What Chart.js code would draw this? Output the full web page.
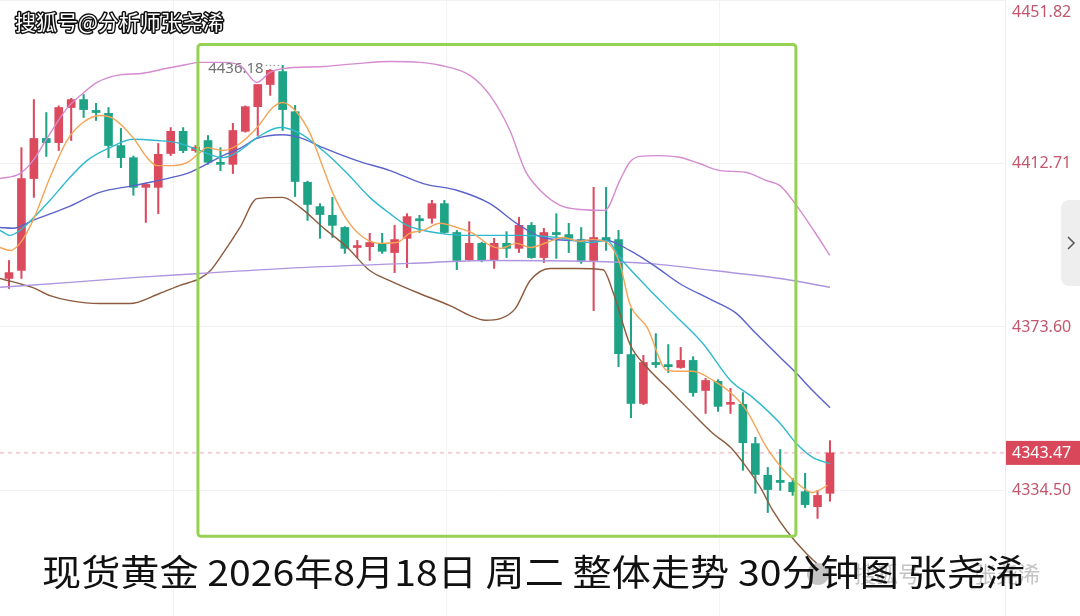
<!DOCTYPE html>
<html>
<head>
<meta charset="utf-8">
<script src="https://cdn.jsdelivr.net/npm/chart.js@4.4.1/dist/chart.umd.min.js"></script>
<style>
  html, body { margin: 0; padding: 0; background: #fff; }
  #wrap { width: 1080px; height: 616px; }
</style>
</head>
<body>
<div id="wrap"><canvas id="chart" width="1080" height="616"></canvas></div>
<script>
// 30 minute candles, oldest first
const opens = [4385.2, 4387.1, 4409.1, 4418.7, 4417.7, 4426.1, 4428.0, 4425.4, 4424.7, 4417.0,
  4414.1, 4407.0, 4407.0, 4415.1, 4420.4, 4415.8, 4418.2, 4412.9, 4412.5, 4420.4,
  4426.3, 4431.6, 4434.7, 4425.1, 4408.2, 4402.4, 4400.3, 4397.4, 4392.6, 4392.8,
  4393.6, 4391.4, 4394.8, 4399.5, 4399.6, 4403.1, 4396.2, 4389.7, 4393.6, 4389.7,
  4393.6, 4392.4, 4397.9, 4390.2, 4396.2, 4395.7, 4394.5, 4389.5, 4395.0, 4394.5,
  4367.0, 4355.3, 4365.1, 4364.6, 4363.9, 4365.6, 4358.4, 4360.6, 4355.1, 4355.1,
  4345.7, 4338.1, 4336.9, 4336.4, 4334.2, 4330.6, 4333.8];
const highs = [4389.5, 4416.5, 4428.0, 4424.9, 4426.5, 4428.3, 4429.2, 4427.1, 4426.1, 4421.1,
  4414.5, 4408.0, 4417.5, 4421.3, 4421.3, 4417.0, 4419.4, 4416.5, 4422.3, 4426.5,
  4431.6, 4435.2, 4436.18, 4426.6, 4408.5, 4403.1, 4404.6, 4397.6, 4394.3, 4396.0,
  4396.0, 4397.9, 4400.7, 4400.3, 4403.9, 4403.9, 4396.7, 4398.8, 4393.9, 4394.8,
  4396.4, 4399.8, 4398.6, 4397.2, 4400.7, 4398.4, 4397.4, 4407.0, 4407.0, 4396.7,
  4378.0, 4366.8, 4372.0, 4369.4, 4368.7, 4366.5, 4361.3, 4361.0, 4358.9, 4357.9,
  4347.2, 4340.0, 4344.3, 4337.4, 4338.6, 4334.5, 4346.4];
const lows = [4382.8, 4385.2, 4404.6, 4414.4, 4415.8, 4418.2, 4423.7, 4423.0, 4414.1, 4411.7,
  4405.1, 4398.6, 4400.7, 4414.6, 4415.3, 4415.4, 4412.5, 4411.0, 4410.3, 4420.2,
  4419.4, 4429.0, 4420.6, 4404.8, 4399.1, 4394.8, 4395.0, 4391.2, 4390.2, 4389.5,
  4391.2, 4386.6, 4387.8, 4396.2, 4398.4, 4396.0, 4387.3, 4389.5, 4389.2, 4387.6,
  4390.2, 4391.4, 4390.0, 4389.0, 4390.0, 4391.4, 4388.8, 4377.5, 4391.9, 4364.1,
  4351.9, 4355.0, 4363.9, 4362.7, 4363.7, 4357.0, 4352.9, 4353.4, 4352.9, 4339.3,
  4333.8, 4329.2, 4334.5, 4333.3, 4330.4, 4327.8, 4331.9];
const closes = [4386.6, 4409.1, 4418.7, 4417.7, 4426.1, 4428.0, 4425.6, 4424.9, 4417.0, 4414.1,
  4407.0, 4407.7, 4414.9, 4420.4, 4415.8, 4416.6, 4413.0, 4412.5, 4420.6, 4426.3,
  4431.6, 4435.0, 4425.6, 4408.4, 4402.9, 4400.5, 4397.9, 4392.4, 4392.8, 4393.8,
  4391.7, 4394.5, 4400.0, 4399.0, 4403.1, 4396.2, 4389.5, 4393.6, 4389.5, 4393.6,
  4392.4, 4397.9, 4390.2, 4396.2, 4395.7, 4394.8, 4389.5, 4395.0, 4394.3, 4367.2,
  4355.3, 4365.1, 4364.6, 4364.1, 4365.6, 4357.9, 4360.8, 4354.6, 4355.4, 4345.9,
  4338.3, 4334.7, 4336.4, 4334.2, 4331.1, 4333.3, 4343.47];

// indicator lines at candle positions
const ma5At = [-0.72, 0.08, 0.88, 1.93, 3.3, 4.66, 5.95, 7.3, 8.36, 9.97, 11.1, 11.9, 13.2, 14.3, 15.35, 15.9,
  17.2, 18.57, 19.94, 21.2, 22.0, 23.15, 24.2, 25.24, 26.05, 27.2, 28.5, 29.8, 31.2, 32.2, 33.3, 34.65,
  36.0, 37.3, 38.67, 39.5, 40.8, 41.9, 43.25, 44.5, 45.9, 46.9, 48.07, 49.1, 49.9, 51.3, 52.9, 53.9,
  55.0, 56.6, 58.0, 59.3, 60.9, 62.5, 63.3, 64.6, 65.8];
const ma5 = [4392.6, 4391.9, 4393.6, 4399.1, 4409.4, 4418.2, 4422.5, 4424.2, 4423.5, 4418.9, 4414.1, 4412.2,
  4412.2, 4412.9, 4415.3, 4416.5, 4415.8, 4417.5, 4421.3, 4426.1, 4427.3, 4424.9, 4419.9, 4411.8, 4405.5,
  4399.1, 4395.0, 4393.6, 4393.8, 4396.0, 4396.7, 4398.4, 4397.4, 4396.0, 4393.1, 4392.4, 4393.6, 4392.6,
  4393.8, 4395.0, 4394.1, 4394.5, 4393.8, 4388.8, 4379.2, 4373.5, 4363.2, 4363.0, 4363.0, 4360.8, 4357.9,
  4353.6, 4344.8, 4338.6, 4336.4, 4334.0, 4335.7];

const ma10At = [-0.72, 0.08, 0.88, 1.93, 3.3, 4.66, 6.27, 8.12, 9.97, 11.9, 13.5, 15.35, 17.2, 18.57, 19.94,
  21.8, 23.4, 25.24, 27.2, 29.0, 30.63, 32.0, 34.65, 37.3, 41.3, 44.05, 46.7, 48.07, 49.1, 51.3, 53.4,
  55.8, 58.0, 59.8, 62.0, 63.3, 64.6, 66.0];
const ma10 = [4396.7, 4395.5, 4396.7, 4399.6, 4403.9, 4408.6, 4413.4, 4416.5, 4418.5, 4418.2, 4417.7, 4415.8,
  4414.1, 4415.8, 4418.9, 4421.3, 4419.9, 4415.8, 4410.3, 4404.6, 4400.7, 4397.9, 4396.0, 4395.5, 4395.5,
  4395.0, 4393.8, 4394.3, 4390.2, 4383.1, 4376.8, 4369.6, 4360.8, 4356.7, 4350.5, 4345.7, 4342.4, 4340.9];

const ma20At = [-0.72, 0.32, 1.93, 4.66, 7.3, 9.97, 12.7, 14.55, 17.2, 18.57, 19.94, 22.0, 23.4, 25.24, 27.97,
  30.63, 33.3, 36.0, 38.67, 40.8, 42.9, 45.66, 48.07, 49.9, 52.1, 53.9, 56.6, 58.5, 59.8, 62.0, 63.3, 64.6, 66.0];
const ma20 = [4397.4, 4397.2, 4399.1, 4402.2, 4405.8, 4407.4, 4409.1, 4410.6, 4414.6, 4416.3, 4418.7, 4419.6,
  4418.9, 4416.5, 4413.4, 4411.0, 4407.9, 4406.3, 4403.1, 4398.4, 4395.0, 4394.3, 4394.3, 4391.9, 4387.8,
  4384.0, 4379.9, 4376.8, 4372.8, 4366.3, 4362.5, 4358.4, 4354.3];

const ma60At = [-0.72, 4.66, 9.97, 15.35, 23.4, 32.2, 38.67, 46.7, 51.3, 56.6, 62.0, 66.0];
const ma60 = [4383.1, 4384.2, 4385.4, 4386.4, 4387.8, 4388.8, 4389.5, 4389.3, 4388.8, 4387.1, 4385.2, 4383.1];

const bollUpAt = [-0.72, 0.88, 1.93, 3.05, 4.66, 5.95, 7.07, 8.68, 10.77, 12.7, 14.3, 15.35, 17.2, 18.57, 19.94,
  20.98, 22.0, 25.24, 27.97, 30.63, 33.0, 34.65, 37.06, 38.67, 40.27, 41.5, 42.7, 44.3, 45.9, 47.9, 49.1,
  49.9, 50.7, 52.3, 53.9, 55.5, 57.2, 59.2, 60.9, 61.98, 63.3, 64.8, 66.0];
const bollUp = [4409.1, 4410.3, 4413.4, 4418.7, 4425.9, 4429.5, 4432.1, 4433.8, 4434.3, 4435.5, 4436.4, 4436.9,
  4436.9, 4436.2, 4432.1, 4434.5, 4435.4, 4435.9, 4436.6, 4437.1, 4436.9, 4436.2, 4433.8, 4429.0, 4420.6,
  4411.0, 4406.3, 4402.7, 4401.7, 4401.5, 4408.6, 4413.0, 4414.4, 4414.6, 4414.2, 4412.7, 4411.0, 4410.6,
  4408.6, 4407.4, 4402.7, 4396.2, 4390.7];

const bollLowAt = [-0.72, 1.93, 3.3, 4.9, 7.3, 9.7, 12.1, 13.7, 15.35, 16.2, 17.2, 18.57, 19.94, 22.0, 23.4,
  25.24, 27.2, 29.0, 30.6, 33.0, 35.45, 37.06, 38.3, 39.5, 40.7, 41.9, 43.5, 45.7, 47.75, 48.6, 49.9, 51.3,
  52.9, 54.5, 56.6, 58.0, 59.3, 60.4, 61.4, 62.5, 64.1, 66.0];
const bollLow = [4385.2, 4383.0, 4381.1, 4379.9, 4379.2, 4379.2, 4381.6, 4383.5, 4385.2, 4387.1, 4391.2, 4397.4,
  4404.3, 4404.6, 4402.2, 4397.4, 4392.6, 4387.1, 4384.7, 4381.6, 4378.7, 4376.3, 4375.2, 4375.6, 4378.0,
  4384.7, 4387.6, 4387.6, 4387.3, 4381.6, 4369.6, 4363.9, 4359.1, 4354.3, 4348.1, 4344.8, 4340.0, 4335.2,
  4329.7, 4324.9, 4319.4, 4314.2];

const yTicks = [4334.50, 4373.60, 4412.71, 4451.82];
const xGridAt = [13.26, 35.2, 57.1];
const highMark = { at: 22, value: 4436.18 };
const boxFrom = { x: 15.19, y: 4441.2 };
const boxTo = { x: 63.26, y: 4323.5 };

const title = '现货黄金 2026年8月18日 周二 整体走势 30分钟图 张尧浠';
const watermark = '搜狐号@分析师张尧浠';

const UP = '#dc4a5e';
const DOWN = '#1ea386';

const idx = closes.map((c, i) => i);
const candleColors = closes.map((c, i) => (c >= opens[i] ? UP : DOWN));
const pairs = (xs, ys) => xs.map((x, i) => ({ x, y: ys[i] }));

function lineSet(label, xs, ys, color) {
  return {
    type: 'line',
    label,
    data: pairs(xs, ys),
    borderColor: color,
    borderWidth: 1.4,
    pointRadius: 0,
    cubicInterpolationMode: 'monotone',
    fill: false,
    order: 0,
  };
}

const decor = {
  id: 'decor',
  beforeDraw(chart) {
    const { ctx } = chart;
    ctx.save();
    ctx.fillStyle = '#ffffff';
    ctx.fillRect(0, 0, chart.width, chart.height);
    ctx.restore();
  },
  beforeDatasetsDraw(chart) {
    const { ctx, chartArea } = chart;
    const y = chart.scales.y.getPixelForValue(closes[closes.length - 1]);
    ctx.save();
    ctx.strokeStyle = '#eaa3ad';
    ctx.lineWidth = 1;
    ctx.setLineDash([4, 4]);
    ctx.beginPath();
    ctx.moveTo(chartArea.left, y);
    ctx.lineTo(chartArea.right, y);
    ctx.stroke();
    ctx.restore();
  },
  afterDraw(chart) {
    const { ctx } = chart;
    const xs = chart.scales.x;
    const ys = chart.scales.y;

    // green box
    const bx0 = xs.getPixelForValue(boxFrom.x);
    const by0 = ys.getPixelForValue(boxFrom.y);
    const bx1 = xs.getPixelForValue(boxTo.x);
    const by1 = ys.getPixelForValue(boxTo.y);
    ctx.save();
    ctx.strokeStyle = '#95d254';
    ctx.lineWidth = 3;
    ctx.beginPath();
    ctx.roundRect(bx0, by0, bx1 - bx0, by1 - by0, 3);
    ctx.stroke();
    ctx.restore();

    // highest price marker
    const hx = xs.getPixelForValue(highMark.at);
    const hy = ys.getPixelForValue(highMark.value);
    ctx.save();
    ctx.fillStyle = '#737373';
    ctx.font = '15px "Noto Sans"';
    ctx.textAlign = 'right';
    ctx.textBaseline = 'middle';
    ctx.fillText(highMark.value.toFixed(2), hx - 19, hy + 3);
    ctx.strokeStyle = '#8a8a8a';
    ctx.lineWidth = 1;
    ctx.setLineDash([1.5, 2.5]);
    ctx.beginPath();
    ctx.moveTo(hx - 17, hy);
    ctx.lineTo(hx - 3, hy);
    ctx.stroke();
    ctx.restore();

    // last price tag
    const last = closes[closes.length - 1];
    const ly = ys.getPixelForValue(last);
    ctx.save();
    ctx.fillStyle = '#d9475b';
    ctx.fillRect(ys.left + 1, ly - 12, chart.width - ys.left, 24);
    ctx.fillStyle = '#ffffff';
    ctx.font = '16px "Noto Sans"';
    ctx.textBaseline = 'middle';
    ctx.fillText(last.toFixed(2), ys.left + 7, ly + 1);
    ctx.restore();

    // side handle
    ctx.save();
    ctx.fillStyle = '#eeeeee';
    ctx.beginPath();
    ctx.roundRect(1061, 200, 30, 86, 8);
    ctx.fill();
    ctx.strokeStyle = '#555555';
    ctx.lineWidth = 1.5;
    ctx.beginPath();
    ctx.moveTo(1068, 237);
    ctx.lineTo(1074, 243);
    ctx.lineTo(1068, 249);
    ctx.stroke();
    ctx.restore();

    // top-left watermark
    ctx.save();
    ctx.font = '21px "Noto Sans CJK SC"';
    ctx.textBaseline = 'middle';
    ctx.lineJoin = 'round';
    ctx.strokeStyle = '#111111';
    ctx.lineWidth = 3;
    ctx.strokeText(watermark, 15, 22);
    ctx.fillStyle = '#ffffff';
    ctx.fillText(watermark, 15, 22);
    ctx.restore();

    // faint platform mark behind the caption
    ctx.save();
    ctx.fillStyle = '#c4c4c4';
    ctx.beginPath();
    ctx.arc(818, 574, 11, 0, Math.PI * 2);
    ctx.fill();
    ctx.font = '22px "Noto Sans CJK SC"';
    ctx.textBaseline = 'middle';
    ctx.fillText('搜狐号', 854, 574);
    ctx.fillText('张尧浠', 974, 574);
    ctx.restore();

    // caption
    ctx.save();
    ctx.font = '36px "Noto Sans CJK SC"';
    ctx.textBaseline = 'middle';
    ctx.fillStyle = '#111111';
    const w = ctx.measureText(title).width;
    ctx.translate(42, 572);
    ctx.scale(983 / w, 1);
    ctx.fillText(title, 0, 0);
    ctx.restore();
  },
};

new Chart(document.getElementById('chart'), {
  type: 'bar',
  data: {
    datasets: [
      lineSet('MA5', ma5At, ma5, '#f4a456'),
      lineSet('MA10', ma10At, ma10, '#2fb9cc'),
      lineSet('MA20', ma20At, ma20, '#5b63c9'),
      lineSet('MA60', ma60At, ma60, '#ad95df'),
      lineSet('UP', bollUpAt, bollUp, '#d48bcf'),
      lineSet('DN', bollLowAt, bollLow, '#8c5b3d'),
      {
        label: 'body',
        data: idx.map((i) => ({ x: i, y: [opens[i], closes[i]] })),
        backgroundColor: candleColors,
        barThickness: 8,
        minBarLength: 2,
        grouped: false,
        borderWidth: 0,
        order: 1,
      },
      {
        label: 'wick',
        data: idx.map((i) => ({ x: i, y: [lows[i], highs[i]] })),
        backgroundColor: candleColors,
        barThickness: 1.4,
        grouped: false,
        borderWidth: 0,
        order: 2,
      },
    ],
  },
  options: {
    responsive: false,
    devicePixelRatio: 1,
    animation: false,
    layout: { padding: 0 },
    plugins: { legend: { display: false }, tooltip: { enabled: false } },
    scales: {
      x: {
        type: 'linear',
        min: -0.723,
        max: 80.07,
        offset: false,
        afterBuildTicks: (s) => { s.ticks = xGridAt.map((v) => ({ value: v })); },
        ticks: { display: false },
        grid: { color: '#f3f3f3', drawTicks: false, offset: false },
        border: { display: false },
        afterFit: (s) => { s.height = 0; },
      },
      y: {
        position: 'right',
        min: 4304.45,
        max: 4451.82,
        afterBuildTicks: (s) => { s.ticks = yTicks.map((v) => ({ value: v })); },
        ticks: {
          color: '#c2566d',
          padding: 7,
          font: { family: 'Noto Sans', size: 16, lineHeight: 1.5 },
          callback: (v) => (v === yTicks[yTicks.length - 1] ? ['', v.toFixed(2)] : v.toFixed(2)),
        },
        grid: { color: '#f1f1f1', drawTicks: false },
        border: { color: '#ececec' },
        afterFit: (s) => { s.width = 75; s.paddingTop = 0; s.paddingBottom = 0; },
      },
    },
  },
  plugins: [decor],
});
</script>
</body>
</html>
